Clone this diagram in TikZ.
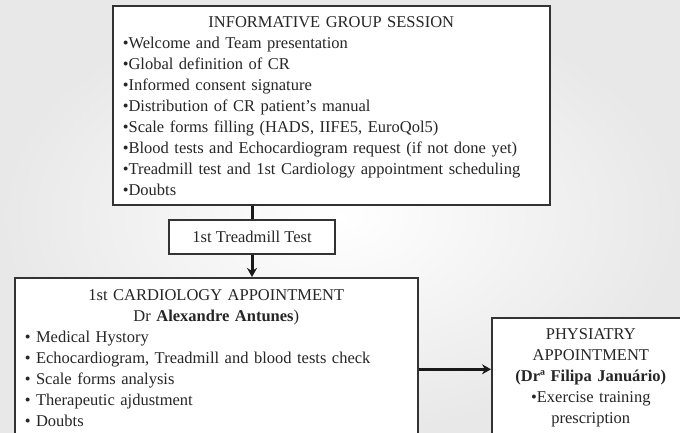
\documentclass[tikz,border=0pt]{standalone}
\usepackage{fontspec}
\setmainfont{Liberation Serif}
\usetikzlibrary{positioning, arrows.meta, calc}
\tikzset{
  panel/.style={
	draw=black!80, % box outline
	line width=1.6pt,
	fill=white,
	text=black!85,
	inner ysep=0pt, % text height/depth fix the box size
	inner xsep=10pt,
  },
  link/.style={
	line width=3pt, % heavy connectors
	draw=black!90,
	>={Stealth[length=9pt, width=10pt]}, % arrow heads
  }
}

\begin{document}
\begin{tikzpicture}[x=1pt, y=-1pt, font=\fontsize{16.5}{21}\selectfont]
% page and background
\useasboundingbox (0,0) rectangle (680,433);
\shade[inner color=white, outer color=black!9] (0,0) rectangle (680,433);

% boxes
\node[panel, anchor=north west, text width=417pt, text height=22pt, text depth=177pt, font=\fontsize{16.5}{21}\selectfont] (info) at (112,5) {%
{\centering INFORMATIVE GROUP SESSION\par}
•Welcome and Team presentation\\
•Global definition of CR\\
•Informed consent signature\\
•Distribution of CR patient’s manual\\
•Scale forms filling (HADS, IIFE5, EuroQol5)\\
•Blood tests and Echocardiogram request (if not done yet)\\
•Treadmill test and 1st Cardiology appointment scheduling\\
•Doubts};
\node[panel, minimum width=166pt, minimum height=34pt] (tread) at (252,237) {1st Treadmill Test};
\node[panel, anchor=north west, text width=383pt, text height=23pt, text depth=160pt] (cardio) at (14,277) {%
{\centering 1st CARDIOLOGY APPOINTMENT\\ Dr \textbf{Alexandre Antunes})\par}
• Medical Hystory\\
• Echocardiogram, Treadmill and blood tests check\\
• Scale forms analysis\\
• Therapeutic ajdustment\\
• Doubts};
\node[panel, anchor=north west, align=center, text width=182pt, inner xsep=8pt, text height=22pt, text depth=122pt] (physio) at (491,317) {PHYSIATRY\\ APPOINTMENT\\ \textbf{(Drª Filipa Januário)}\\ •Exercise training\\ prescription};

% connectors
\draw[link] (tread.north |- info.south) -- (tread.north);
\draw[link, ->] (tread.south) -- (tread.south |- cardio.north);
\draw[link, ->] (cardio.east) -- (cardio.east -| physio.west);
\end{tikzpicture}
\end{document}
